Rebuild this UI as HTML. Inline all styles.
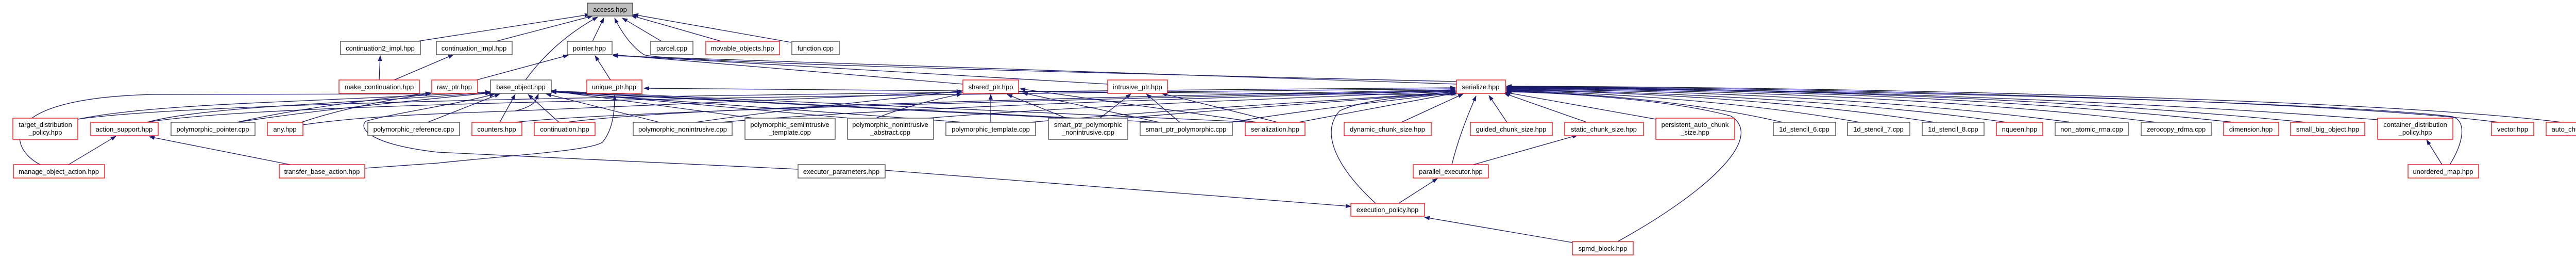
<!DOCTYPE html>
<html><head><meta charset="utf-8"><style>
html,body{margin:0;padding:0;background:#fff;width:5093px;height:500px;overflow:hidden}
svg{display:block}
text{font-family:"Liberation Sans",sans-serif;font-size:13px;fill:#000}
.e{fill:none;stroke:#191970;stroke-width:1.3}
.b{fill:#fff;stroke:#404040;stroke-width:1.3}
.r{fill:#fff;stroke:#ff0000;stroke-width:1.3}
</style></head><body>
<svg width="5093" height="500" viewBox="0 0 5093 500" xmlns="http://www.w3.org/2000/svg">
<defs><marker id="a" markerWidth="11" markerHeight="8" refX="10" refY="4" orient="auto" markerUnits="userSpaceOnUse"><path d="M0,0 L11,4 L0,8 z" fill="#191970"/></marker></defs>
<g class="e" marker-end="url(#a)">
<!-- to access -->
<path d="M810,80 L1145,28"/>
<path d="M963,80 L1150,31"/>
<path d="M1020,155 C1060,100 1110,60 1160,33"/>
<path d="M1150,80 L1172,35"/>
<path d="M1284,80 L1208,35"/>
<path d="M1400,80 L1225,30"/>
<path d="M1535,82 L1229,28"/>
<path d="M2827,158 C1600,130 1270,115 1250,106 C1225,90 1205,60 1193,35"/>
<!-- continuation impls -->
<path d="M765,155 L880,106"/>
<path d="M736,155 L738,108"/>
<!-- pointer -->
<path d="M925,155 L1103,107"/>
<path d="M1185,155 L1155,108"/>
<path d="M1869,163 L1190,106"/>
<path d="M2150,163 L1190,107"/>
<path d="M2827,163 L1190,108"/>
<!-- unique_ptr -->
<path d="M2827,184 L1250,171"/>
<path d="M708,326 L850,316 C1000,300 1150,292 1170,275 C1190,250 1193,215 1193,185"/>
<!-- raw_ptr -->
<path d="M78,319 C20,290 -20,190 300,183 L836,182"/>
<path d="M460,237 C600,205 760,190 836,180"/>
<path d="M585,237 C680,205 780,190 836,181"/>
<!-- base_object -->
<path d="M151,231 C300,200 600,198 952,178"/>
<path d="M285,237 C400,205 700,200 952,179"/>
<path d="M460,237 C600,215 800,195 952,180"/>
<path d="M588,242 C700,225 850,220 1000,215 C1040,205 1040,195 1045,182"/>
<path d="M830,237 L970,182"/>
<path d="M970,237 L1000,183"/>
<path d="M1085,237 L1025,183"/>
<path d="M1280,237 L1060,182"/>
<path d="M1470,230 L1070,176"/>
<path d="M1660,230 L1070,177"/>
<path d="M1870,237 L1070,178"/>
<path d="M2070,229 L1070,178"/>
<path d="M2250,237 L1070,177"/>
<path d="M2440,237 L1070,176"/>
<path d="M1549,328 L850,295 C720,280 695,250 710,235 C760,220 900,200 960,182"/>
<!-- shared_ptr -->
<path d="M1923,237 L1923,183"/>
<path d="M2070,229 L1955,183"/>
<path d="M2250,237 L1985,180"/>
<path d="M2440,237 L1980,172"/>
<path d="M1350,237 C1500,215 1700,195 1867,176"/>
<path d="M1700,229 C1750,210 1800,195 1867,182"/>
<path d="M1000,215 C1300,200 1600,190 1867,178"/>
<!-- intrusive_ptr -->
<path d="M2135,229 L2195,182"/>
<path d="M2290,237 L2225,182"/>
<path d="M2480,237 L2255,181"/>
<!-- serialize from left -->
<path d="M151,231 C400,195 1500,180 2825,170"/>
<path d="M285,237 C500,200 1500,185 2825,172"/>
<path d="M1100,237 C1300,210 2000,190 2825,174"/>
<path d="M1000,237 C1200,215 2000,195 2825,175"/>
<path d="M1400,237 C1700,210 2300,190 2825,176"/>
<path d="M1800,229 C2100,205 2500,190 2825,177"/>
<path d="M2000,237 C2300,210 2600,195 2825,178"/>
<path d="M2180,229 C2400,210 2700,190 2825,178"/>
<path d="M2390,237 C2550,210 2750,190 2825,179"/>
<path d="M2520,237 L2827,180"/>
<path d="M2670,394 C2600,330 2560,260 2600,215 C2650,190 2760,185 2827,181"/>
<path d="M2720,237 L2840,182"/>
<path d="M2818,319 C2830,270 2850,220 2865,186"/>
<path d="M2925,237 L2890,185"/>
<path d="M3080,237 L2920,181"/>
<path d="M3214,231 L2922,179"/>
<path d="M3460,237 C3300,200 3100,180 2924,177"/>
<path d="M3610,237 C3400,200 3150,180 2924,176"/>
<path d="M3755,237 C3500,198 3200,178 2924,175"/>
<path d="M3895,237 C3600,195 3200,177 2924,174"/>
<path d="M4020,237 C3700,195 3300,175 2924,173"/>
<path d="M4185,237 C3800,190 3300,173 2924,172"/>
<path d="M4335,237 C3900,190 3400,172 2924,171"/>
<path d="M4475,237 C4000,190 3400,170 2924,170"/>
<path d="M4615,232 C4100,192 3400,170 2924,169"/>
<path d="M4850,237 C4500,192 3500,170 2924,168"/>
<path d="M4972,237 C4600,190 3500,168 2924,167"/>
<path d="M4755,319 C4780,280 4790,235 4760,226 C4500,195 3500,172 2924,171"/>
<path d="M3140,468 C3300,380 3430,270 3360,225 C3250,195 3050,180 2924,178"/>
<!-- lower -->
<path d="M2860,319 L3062,262"/>
<path d="M2715,394 L2790,346"/>
<path d="M3052,470 L2765,421"/>
<path d="M1718,330 L2622,400"/>
<path d="M4740,319 L4710,271"/>
<path d="M133,319 L225,264"/>
<path d="M563,319 L290,265"/>
</g>
<g>
<rect x="1140" y="6" width="88" height="25" fill="#bfbfbf" stroke="#404040" stroke-width="1.3"/>
<rect class="b" x="661" y="80" width="155" height="26"/>
<rect class="b" x="847" y="80" width="147" height="26"/>
<rect class="b" x="1101" y="80" width="87" height="26"/>
<rect class="b" x="1263" y="80" width="82" height="26"/>
<rect class="r" x="1370" y="80" width="143" height="26"/>
<rect class="b" x="1537" y="80" width="92" height="26"/>
<rect class="r" x="658" y="155" width="156" height="26"/>
<rect class="r" x="838" y="155" width="89" height="26"/>
<rect class="b" x="952" y="155" width="118" height="26"/>
<rect class="r" x="1139" y="155" width="107" height="26"/>
<rect class="r" x="1869" y="155" width="108" height="26"/>
<rect class="r" x="2150" y="155" width="116" height="26"/>
<rect class="r" x="2827" y="155" width="95" height="26"/>
<rect class="r" x="25" y="229" width="126" height="41"/>
<rect class="r" x="176" y="237" width="131" height="26"/>
<rect class="b" x="332" y="237" width="163" height="26"/>
<rect class="r" x="519" y="237" width="69" height="26"/>
<rect class="b" x="714" y="237" width="178" height="26"/>
<rect class="r" x="916" y="237" width="97" height="26"/>
<rect class="r" x="1037" y="237" width="118" height="26"/>
<rect class="b" x="1229" y="237" width="192" height="26"/>
<rect class="b" x="1446" y="229" width="175" height="41"/>
<rect class="b" x="1645" y="229" width="167" height="41"/>
<rect class="b" x="1836" y="237" width="174" height="26"/>
<rect class="b" x="2035" y="229" width="154" height="41"/>
<rect class="b" x="2213" y="237" width="179" height="26"/>
<rect class="r" x="2417" y="237" width="116" height="26"/>
<rect class="r" x="2609" y="237" width="169" height="26"/>
<rect class="r" x="2854" y="237" width="159" height="26"/>
<rect class="r" x="3037" y="237" width="153" height="26"/>
<rect class="r" x="3214" y="229" width="153" height="41"/>
<rect class="b" x="3442" y="237" width="121" height="26"/>
<rect class="b" x="3586" y="237" width="121" height="26"/>
<rect class="b" x="3731" y="237" width="120" height="26"/>
<rect class="r" x="3875" y="237" width="90" height="26"/>
<rect class="b" x="3989" y="237" width="142" height="26"/>
<rect class="b" x="4156" y="237" width="136" height="26"/>
<rect class="r" x="4316" y="237" width="107" height="26"/>
<rect class="r" x="4446" y="237" width="144" height="26"/>
<rect class="r" x="4615" y="229" width="146" height="41"/>
<rect class="r" x="4836" y="237" width="82" height="26"/>
<rect class="r" x="4942" y="237" width="145" height="26"/>
<rect class="r" x="26" y="319" width="177" height="26"/>
<rect class="r" x="542" y="319" width="166" height="26"/>
<rect class="b" x="1549" y="319" width="169" height="26"/>
<rect class="r" x="2743" y="319" width="146" height="26"/>
<rect class="r" x="4674" y="319" width="137" height="26"/>
<rect class="r" x="2622" y="394" width="143" height="25"/>
<rect class="r" x="3052" y="468" width="118" height="26"/>
</g>
<g text-anchor="middle">
<text x="1184" y="23">access.hpp</text>
<text x="738" y="98">continuation2_impl.hpp</text>
<text x="920" y="98">continuation_impl.hpp</text>
<text x="1144" y="98">pointer.hpp</text>
<text x="1304" y="98">parcel.cpp</text>
<text x="1441" y="98">movable_objects.hpp</text>
<text x="1583" y="98">function.cpp</text>
<text x="736" y="173">make_continuation.hpp</text>
<text x="882" y="173">raw_ptr.hpp</text>
<text x="1011" y="173">base_object.hpp</text>
<text x="1192" y="173">unique_ptr.hpp</text>
<text x="1923" y="173">shared_ptr.hpp</text>
<text x="2208" y="173">intrusive_ptr.hpp</text>
<text x="2874" y="173">serialize.hpp</text>
<text x="88" y="246">target_distribution</text><text x="88" y="261">_policy.hpp</text>
<text x="241" y="255">action_support.hpp</text>
<text x="413" y="255">polymorphic_pointer.cpp</text>
<text x="553" y="255">any.hpp</text>
<text x="803" y="255">polymorphic_reference.cpp</text>
<text x="964" y="255">counters.hpp</text>
<text x="1096" y="255">continuation.hpp</text>
<text x="1325" y="255">polymorphic_nonintrusive.cpp</text>
<text x="1533" y="246">polymorphic_semiintrusive</text><text x="1533" y="261">_template.cpp</text>
<text x="1728" y="246">polymorphic_nonintrusive</text><text x="1728" y="261">_abstract.cpp</text>
<text x="1923" y="255">polymorphic_template.cpp</text>
<text x="2112" y="246">smart_ptr_polymorphic</text><text x="2112" y="261">_nonintrusive.cpp</text>
<text x="2302" y="255">smart_ptr_polymorphic.cpp</text>
<text x="2475" y="255">serialization.hpp</text>
<text x="2693" y="255">dynamic_chunk_size.hpp</text>
<text x="2933" y="255">guided_chunk_size.hpp</text>
<text x="3113" y="255">static_chunk_size.hpp</text>
<text x="3290" y="246">persistent_auto_chunk</text><text x="3290" y="261">_size.hpp</text>
<text x="3502" y="255">1d_stencil_6.cpp</text>
<text x="3646" y="255">1d_stencil_7.cpp</text>
<text x="3791" y="255">1d_stencil_8.cpp</text>
<text x="3920" y="255">nqueen.hpp</text>
<text x="4060" y="255">non_atomic_rma.cpp</text>
<text x="4224" y="255">zerocopy_rdma.cpp</text>
<text x="4369" y="255">dimension.hpp</text>
<text x="4518" y="255">small_big_object.hpp</text>
<text x="4688" y="246">container_distribution</text><text x="4688" y="261">_policy.hpp</text>
<text x="4877" y="255">vector.hpp</text>
<text x="5014" y="255">auto_chunk_size.hpp</text>
<text x="114" y="337">manage_object_action.hpp</text>
<text x="625" y="337">transfer_base_action.hpp</text>
<text x="1633" y="337">executor_parameters.hpp</text>
<text x="2816" y="337">parallel_executor.hpp</text>
<text x="4742" y="337">unordered_map.hpp</text>
<text x="2693" y="411">execution_policy.hpp</text>
<text x="3111" y="486">spmd_block.hpp</text>
</g>
</svg>
</body></html>
